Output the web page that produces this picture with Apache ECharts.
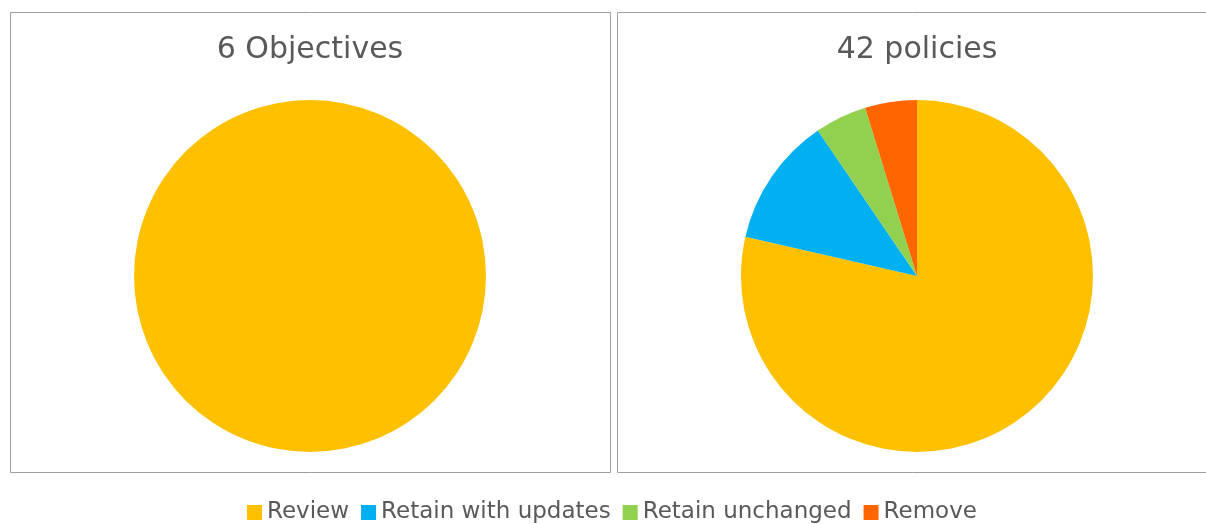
<!DOCTYPE html>
<html>
<head>
<meta charset="utf-8">
<script src="https://cdn.jsdelivr.net/npm/echarts@6/dist/echarts.min.js"></script>
<style>
  html, body { margin: 0; padding: 0; background: #ffffff; }
  #chart { width: 1206px; height: 524px; }
</style>
</head>
<body>
<div id="chart"></div>
<script>
// Status categories shared by both pies
const categories = ['Review', 'Retain with updates', 'Retain unchanged', 'Remove'];
const colors = ['#FFC000', '#00B0F0', '#92D050', '#FF6600'];

// Counts per status
const objectivesCounts = [6, 0, 0, 0];
const policiesCounts = [33, 5, 2, 2];

const panelTitles = ['6 Objectives', '42 policies'];

const FONT = 'DejaVu Sans';
const TEXT_COLOR = '#595959';

function toPieData(counts) {
  return categories.map((name, i) => ({ name: name, value: counts[i] }));
}

const chart = echarts.init(document.getElementById('chart'), null, { renderer: 'canvas' });

const pieCommon = {
  type: 'pie',
  radius: 176,
  startAngle: 90,
  clockwise: true,
  label: { show: false },
  labelLine: { show: false },
  silent: true,
  minAngle: 0,
  itemStyle: { borderWidth: 0 },
  emphasis: { disabled: true }
};

// Panel frames and their headings
function panel(x, title, cx) {
  return [
    {
      type: 'rect',
      shape: { x: x, y: 12.5, width: 600, height: 460 },
      style: { fill: 'none', stroke: '#9e9e9e', lineWidth: 1 },
      z: 0
    },
    {
      type: 'text',
      x: cx, y: 50,
      style: {
        text: title,
        font: '30px "' + FONT + '"',
        fill: TEXT_COLOR,
        align: 'center',
        verticalAlign: 'middle'
      },
      z: 5
    }
  ];
}

chart.setOption({
  animation: false,
  color: colors,
  textStyle: { fontFamily: FONT },
  graphic: [].concat(panel(10.5, panelTitles[0], 310), panel(617.5, panelTitles[1], 917)),
  legend: {
    data: categories,
    left: 242,
    top: 496,
    itemWidth: 15,
    itemHeight: 15,
    itemGap: 12,
    icon: 'rect',
    selectedMode: false,
    textStyle: { fontFamily: FONT, fontSize: 23, color: TEXT_COLOR }
  },
  series: [
    Object.assign({}, pieCommon, {
      name: panelTitles[0],
      center: [310, 276],
      data: toPieData(objectivesCounts)
    }),
    Object.assign({}, pieCommon, {
      name: panelTitles[1],
      center: [917, 276],
      data: toPieData(policiesCounts)
    })
  ]
});
</script>
</body>
</html>
